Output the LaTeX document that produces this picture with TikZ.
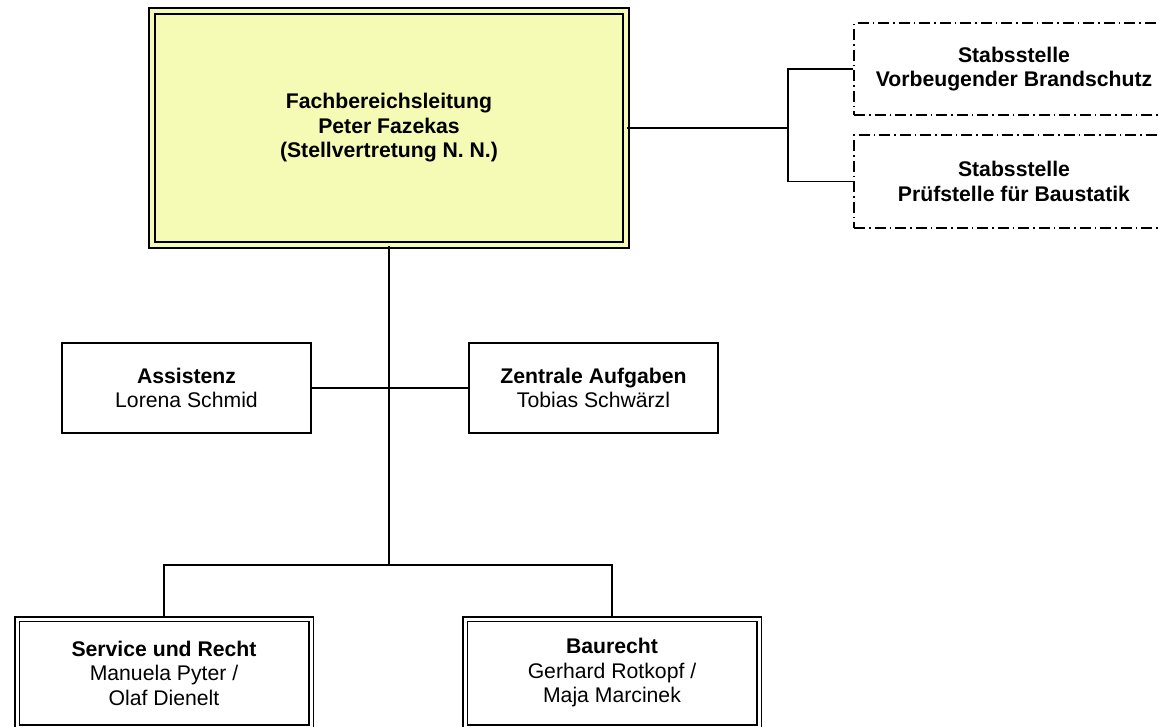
\documentclass[tikz,border=0pt]{standalone}
\usepackage{fontspec}
\setmainfont{Liberation Sans}
\definecolor{leityellow}{RGB}{245,250,180}
\tikzset{
  orgtext/.style={font=\fontsize{21.2}{24.5}\selectfont, align=center, inner sep=0pt},
  leitbox/.style={orgtext, draw, line width=1.6pt, double=leityellow, double distance=4.4pt, fill=leityellow},
  stabbox/.style={orgtext, draw, line width=1.4pt, dash pattern=on 11pt off 4pt on 1.5pt off 4pt},
  unitbox/.style={orgtext, draw, line width=1.5pt},
  deptbox/.style={orgtext, draw, line width=1.5pt, double=white, double distance=3pt},
  link/.style={line width=1.6pt}
}
\begin{document}
\begin{tikzpicture}[x=1pt,y=-1pt]
\useasboundingbox (0,0) rectangle (1159,726);
\clip (0,0) rectangle (1159,726);
\node[leitbox, minimum width=474pt, minimum height=234pt] (leitung) at (389,128)
  {\textbf{Fachbereichsleitung}\\\textbf{Peter Fazekas}\\\textbf{(Stellvertretung N. N.)}};
\node[stabbox, minimum width=320pt, minimum height=92pt] (stab1) at (1014,69)
  {\textbf{Stabsstelle}\\\textbf{Vorbeugender Brandschutz}};
\node[stabbox, minimum width=320pt, minimum height=93pt] (stab2) at (1014,181.5)
  {\textbf{Stabsstelle}\\\textbf{Prüfstelle für Baustatik}};
\node[unitbox, minimum width=249pt, minimum height=90pt] (assist) at (186.5,388)
  {\textbf{Assistenz}\\Lorena Schmid};
\node[unitbox, minimum width=249pt, minimum height=90pt] (zentral) at (593.5,388)
  {\textbf{Zentrale Aufgaben}\\Tobias Schwärzl};
\node[deptbox, minimum width=294pt, minimum height=108pt] (service) at (164,673)
  {\textbf{Service und Recht}\\Manuela Pyter /\\Olaf Dienelt};
\node[deptbox, minimum width=294pt, minimum height=108pt] (baurecht) at (612,673)
  {\textbf{Baurecht}\\Gerhard Rotkopf /\\Maja Marcinek};
\coordinate (stabast) at (788,128);
\coordinate (deptast) at (389,565);
\draw[link] (leitung.east) -- (stabast);
\draw[link] (stab1.west) -| (stabast) |- (stab2.west);
\draw[link] (leitung.south) -- (deptast);
\draw[link] (assist.east) -- (zentral.west);
\draw[link] (service.north) |- (deptast) -| (baurecht.north);
\end{tikzpicture}
\end{document}
